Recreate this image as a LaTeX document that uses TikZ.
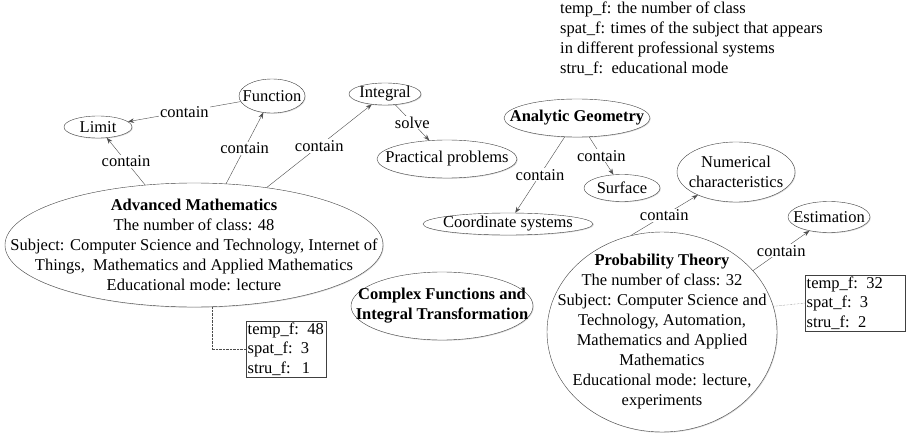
\documentclass[tikz,border=0pt]{standalone}
\usepackage{fontspec}
\setmainfont{Liberation Serif}
\usetikzlibrary{arrows.meta,shapes.geometric,shadows}
\newcommand{\relation}[3] % {from}{to}{label}
{
	\draw [rel] (#1) -- node [lbl] {#3} (#2);
}
\begin{document}
\begin{tikzpicture}[x=1pt, y=-1pt,
		every node/.style={font=\fontsize{16.5}{20}\selectfont},
		topic/.style={ellipse, draw=black!75, thin, fill=white, inner sep=0pt,
			drop shadow={shadow xshift=0.8pt, shadow yshift=-0.8pt, fill=black!30}},
		txt/.style={align=center, inner sep=0pt},
		note/.style={draw=black!75, thin, fill=white, align=left, inner sep=1.5pt, anchor=north west,
			font=\fontsize{16.5}{19.5}\selectfont,
			drop shadow={shadow xshift=0.8pt, shadow yshift=-0.8pt, fill=black!30}},
		rel/.style={draw=black!70, thin, -{Stealth[length=6pt, width=4.5pt]}},
		lbl/.style={fill=white, inner sep=1pt},
		link/.style={draw=black!70, densely dotted, thin}]
	\useasboundingbox (0,0) rectangle (907,433);

	% legend
	\node [align=left, anchor=north west, inner sep=0pt] (legend) at (560,2)
		{temp\_f: the number of class\\spat\_f: times of the subject that appears\\in different professional systems\\stru\_f:\ \ educational mode};

	% courses
	\node [topic, minimum width=378, minimum height=124,
		label={[txt]center:{\textbf{Advanced Mathematics}\\The number of class: 48\\Subject: Computer Science and Technology, Internet of\\Things,\ \ Mathematics and Applied Mathematics\\Educational mode: lecture}}] (am) at (194,245) {};
	\node [topic, minimum width=182, minimum height=68,
		label={[txt]center:{\textbf{Complex Functions and}\\\textbf{Integral Transformation}}}] (cf) at (442,306) {};
	\node [topic, minimum width=146, minimum height=38,
		label={[txt]center:{\textbf{Analytic Geometry}}}] (ag) at (577,118) {};
	\node [topic, minimum width=230, minimum height=200,
		label={[txt]center:{\textbf{Probability Theory}\\The number of class: 32\\Subject: Computer Science and\\Technology, Automation,\\Mathematics and Applied\\Mathematics\\Educational mode: lecture,\\experiments}}] (pt) at (662,332) {};

	% contents
	\node [topic, minimum width=68, minimum height=22, label={[txt]center:Limit}] (limit) at (98,127) {};
	\node [topic, minimum width=66, minimum height=34, label={[txt]center:Function}] (function) at (272,96) {};
	\node [topic, minimum width=72, minimum height=22, label={[txt]center:Integral}] (integral) at (385,94) {};
	\node [topic, minimum width=140, minimum height=38, label={[txt]center:Practical problems}] (practical) at (447,159) {};
	\node [topic, minimum width=76, minimum height=27, label={[txt]center:Surface}] (surface) at (622,188) {};
	\node [topic, minimum width=170, minimum height=22, label={[txt]center:Coordinate systems}] (coord) at (508,224) {};
	\node [topic, minimum width=118, minimum height=60, label={[txt]center:{Numerical\\characteristics}}] (numerical) at (736,172) {};
	\node [topic, minimum width=82, minimum height=31, label={[txt]center:Estimation}] (estimation) at (829,217) {};

	% features
	\node [note, text width=77] (amf) at (246,321) {temp\_f: 48\\spat\_f: 3\\stru\_f:\ \ 1};
	\node [note, text width=97] (ptf) at (805,275) {temp\_f: 32\\spat\_f: 3\\stru\_f: 2};

	% relations
	\relation{am}{limit}{contain}
	\relation{am}{function}{contain}
	\relation{function}{limit}{contain}
	\relation{am}{integral}{contain}
	\relation{integral}{practical}{solve}
	\relation{ag}{coord}{contain}
	\relation{ag}{surface}{contain}
	\relation{pt.108}{numerical}{contain}
	\relation{pt.34}{estimation}{contain}

	\draw [link] (am.-74) |- (amf.west);
	\draw [link] (pt.13) -- (ptf.west);
\end{tikzpicture}
\end{document}
